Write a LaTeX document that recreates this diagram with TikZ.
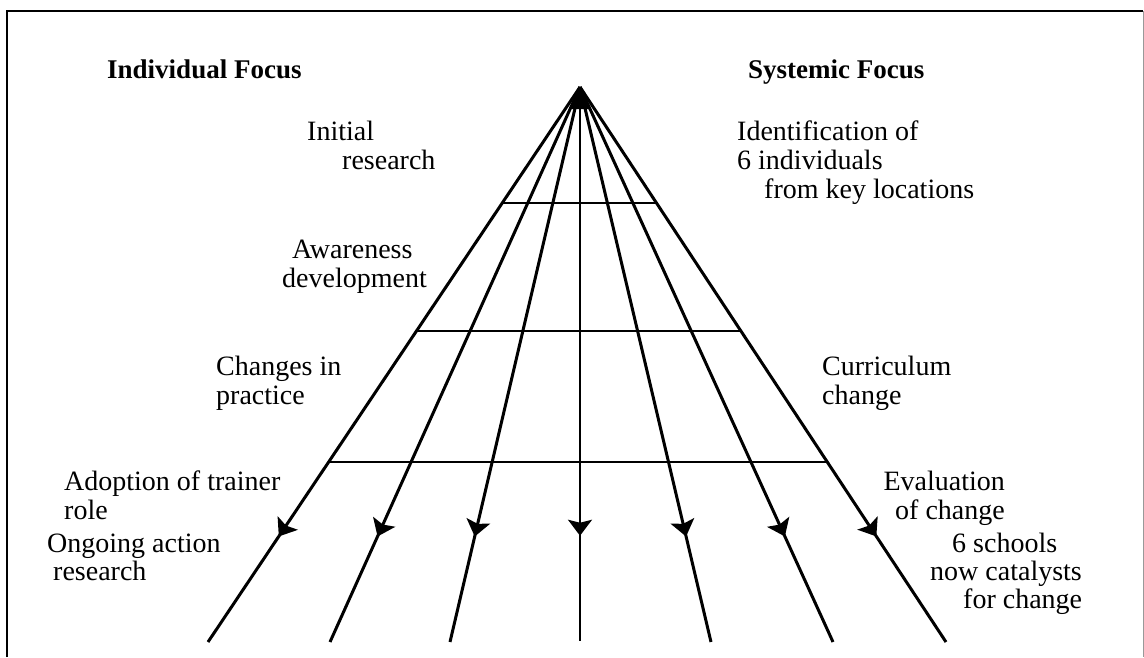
\documentclass[tikz,border=0pt]{standalone}
\usepackage{fontspec}
\setmainfont{Liberation Serif}
\usetikzlibrary{arrows.meta,decorations.markings,calc}
\begin{document}
\begin{tikzpicture}[x=1pt,y=-1pt,
  txt/.style={anchor=base west,inner sep=0pt,font=\fontsize{28}{29}\selectfont},
  txtr/.style={txt,anchor=base east},
  head/.style={txt,font=\fontsize{27}{29}\selectfont\bfseries},
  ray/.style={line width=3pt,postaction={decorate},
    decoration={markings,mark=at position 0.81 with {\arrow{Stealth[length=16pt,width=24pt,inset=3pt]}}}},
  rung/.style={line width=2.5pt}]
\useasboundingbox (0,0) rectangle (1144,657);
\draw[line width=2pt] (7,657) -- (7,11) -- (1143,11);
\draw[line width=0.6pt,black!40] (1143,11) -- (1143,657);
\coordinate (A) at (580,87);
\coordinate (b1) at (208,642);
\coordinate (b2) at (330,642);
\coordinate (b3) at (450,642);
\coordinate (b4) at (580,641);
\coordinate (b5) at (711,642);
\coordinate (b6) at (833,642);
\coordinate (b7) at (946,642);
\foreach \i in {1,2,3,5,6,7} {\draw[ray] (A) -- (b\i);}
\draw[ray,line width=2pt] (A) -- (b4);
\fill (A) -- ($(A)!0.04!(b2)$) -- ($(A)!0.04!(b6)$) -- cycle;
\foreach \t in {0.209,0.4396,0.6757} {\draw[rung] ($(A)!\t!(b1)$) -- ($(A)!\t!(b7)$);}
\node[head] (h1) at (107,78) {Individual Focus};
\node[head] (h2) at (748,78) {Systemic Focus};
\node[txt] (l1a) at (307,140) {Initial};
\node[txt] (l1b) at (342,169) {research};
\node[txt] (r1a) at (737,140) {Identification of};
\node[txt] (r1b) at (737,169) {6 individuals};
\node[txt] (r1c) at (764,198) {from key locations};
\node[txt] (l2a) at (292,258) {Awareness};
\node[txt] (l2b) at (282,287) {development};
\node[txt] (l3a) at (216,375) {Changes in};
\node[txt] (l3b) at (216,404) {practice};
\node[txt] (r3a) at (822,375) {Curriculum};
\node[txt] (r3b) at (822,404) {change};
\node[txt] (l4a) at (64,490) {Adoption of trainer};
\node[txt] (l4b) at (64,519) {role};
\node[txtr] (r4a) at (1005,490) {Evaluation};
\node[txtr] (r4b) at (1005,519) {of change};
\node[txt] (l5a) at (47,552) {Ongoing action};
\node[txt] (l5b) at (53,580) {research};
\node[txt] (r5a) at (952,552) {6 schools};
\node[txt] (r5b) at (930,580) {now catalysts};
\node[txt] (r5c) at (963,608) {for change};
\end{tikzpicture}
\end{document}
